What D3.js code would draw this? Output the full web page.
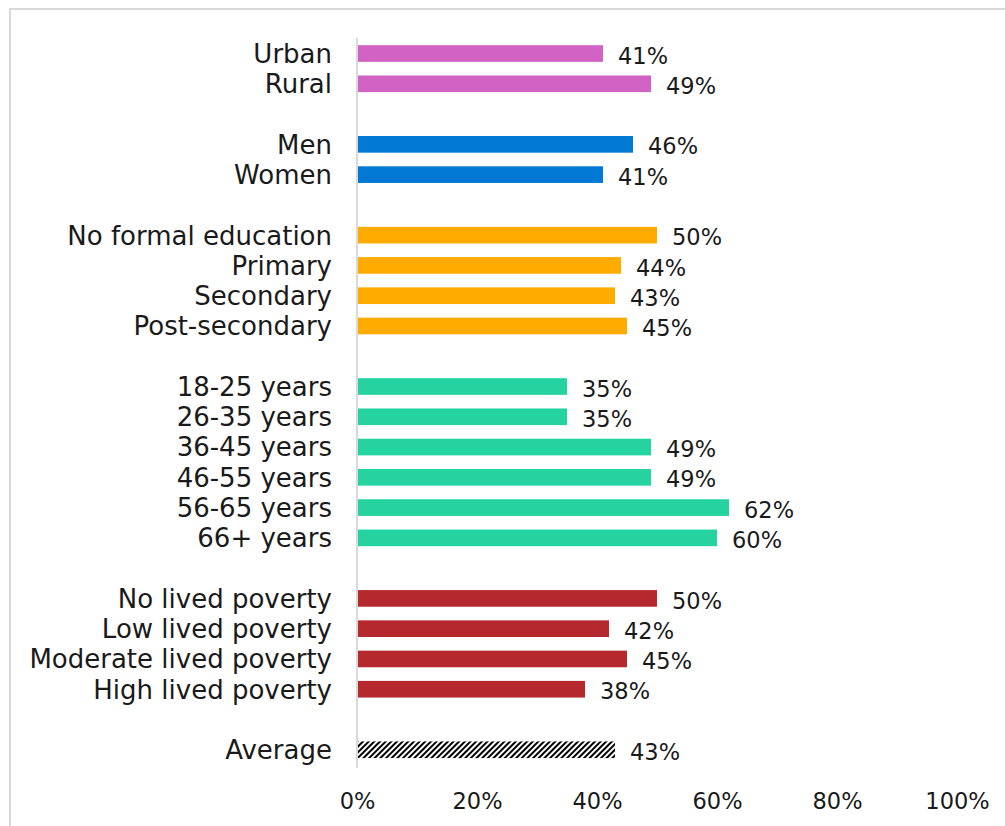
<!DOCTYPE html>
<html>
<head>
<meta charset="utf-8">
<script src="https://cdn.jsdelivr.net/npm/d3@7"></script>
<style>
  body { margin: 0; background: #fff; }
  text { font-family: "DejaVu Sans", sans-serif; fill: #1a1a1a; }
</style>
</head>
<body>
<div id="chart"></div>
<script>
'use strict';

// groups shown top to bottom, an empty slot between each group
let groups = ['location', 'gender', 'education', 'age', 'poverty', 'average'];
let categories = [
    ['Urban', 'Rural'],
    ['Men', 'Women'],
    ['No formal education', 'Primary', 'Secondary', 'Post-secondary'],
    ['18-25 years', '26-35 years', '36-45 years', '46-55 years', '56-65 years', '66+ years'],
    ['No lived poverty', 'Low lived poverty', 'Moderate lived poverty', 'High lived poverty'],
    ['Average']
];
let values = [
    [41, 49],
    [46, 41],
    [50, 44, 43, 45],
    [35, 35, 49, 49, 62, 60],
    [50, 42, 45, 38],
    [43]
];
let colours = ['#d063c4', '#0078d4', '#ffab00', '#24d3a0', '#b4282e', 'url(#hatch)'];
let tick_values = [0, 20, 40, 60, 80, 100];

let width = 1005, height = 826;

// flatten into rows with a blank slot between groups
let rows = [], slot = 0;
groups.forEach(function(g, gi) {
    categories[gi].forEach(function(c, ci) {
        rows.push({slot: 's' + slot, name: c, value: values[gi][ci], colour: colours[gi]});
        slot++;
    });
    if (gi < groups.length - 1) slot++;
});
let slots = d3.range(slot).map(function(i) { return 's' + i; });

let svg = d3.select('#chart')
    .append('svg')
    .attr('width', width)
    .attr('height', height);

let defs = svg.append('defs');
let pat = defs.append('pattern')
    .attr('id', 'hatch')
    .attr('patternUnits', 'userSpaceOnUse')
    .attr('width', 4)
    .attr('height', 4)
    .attr('patternTransform', 'rotate(45)');
pat.append('rect').attr('width', 4).attr('height', 4).attr('fill', '#fff');
pat.append('rect').attr('width', 2).attr('height', 4).attr('fill', '#000');

// outer frame (runs off the right and bottom edges)
svg.append('rect')
    .attr('x', 10).attr('y', 9)
    .attr('width', 1010).attr('height', 830)
    .attr('fill', 'none')
    .attr('stroke', '#d9d9d9')
    .attr('stroke-width', 2);

let x = d3.scaleLinear().domain([0, 100]).range([357, 957]);
let y = d3.scaleBand().domain(slots).range([38.4, 764.9]).paddingInner(0.45).paddingOuter(0.225);

svg.append('g')
    .selectAll('rect')
    .data(rows)
    .enter().append('rect')
      .attr('x', x(0))
      .attr('y', function(d) { return y(d.slot); })
      .attr('width', function(d) { return x(d.value) - x(0); })
      .attr('height', y.bandwidth())
      .attr('fill', function(d) { return d.colour; });

// vertical axis line
svg.append('line')
    .attr('x1', x(0)).attr('x2', x(0))
    .attr('y1', 38).attr('y2', 768)
    .attr('stroke', '#d9d9d9')
    .attr('stroke-width', 2);

svg.append('g')
    .selectAll('text')
    .data(rows)
    .enter().append('text')
      .attr('x', 332)
      .attr('y', function(d) { return y(d.slot) + y.bandwidth() / 2; })
      .attr('dy', '0.36em')
      .attr('text-anchor', 'end')
      .style('font-size', '26px')
      .text(function(d) { return d.name; });

svg.append('g')
    .selectAll('text')
    .data(rows)
    .enter().append('text')
      .attr('x', function(d) { return x(d.value) + 15; })
      .attr('y', function(d) { return y(d.slot) + y.bandwidth() / 2 + 2; })
      .attr('dy', '0.36em')
      .style('font-size', '22.5px')
      .text(function(d) { return d.value + '%'; });

let xAxis = svg.append('g')
    .attr('transform', 'translate(0,785)')
    .call(d3.axisBottom(x).tickValues(tick_values).tickSize(0).tickPadding(0)
        .tickFormat(function(d) { return d + '%'; }));
xAxis.select('.domain').remove();
xAxis.selectAll('text')
    .attr('dy', '0.36em')
    .attr('y', 16)
    .style('font-family', '"DejaVu Sans", sans-serif')
    .style('font-size', '22.5px')
    .attr('fill', '#1a1a1a');
</script>
</body>
</html>
